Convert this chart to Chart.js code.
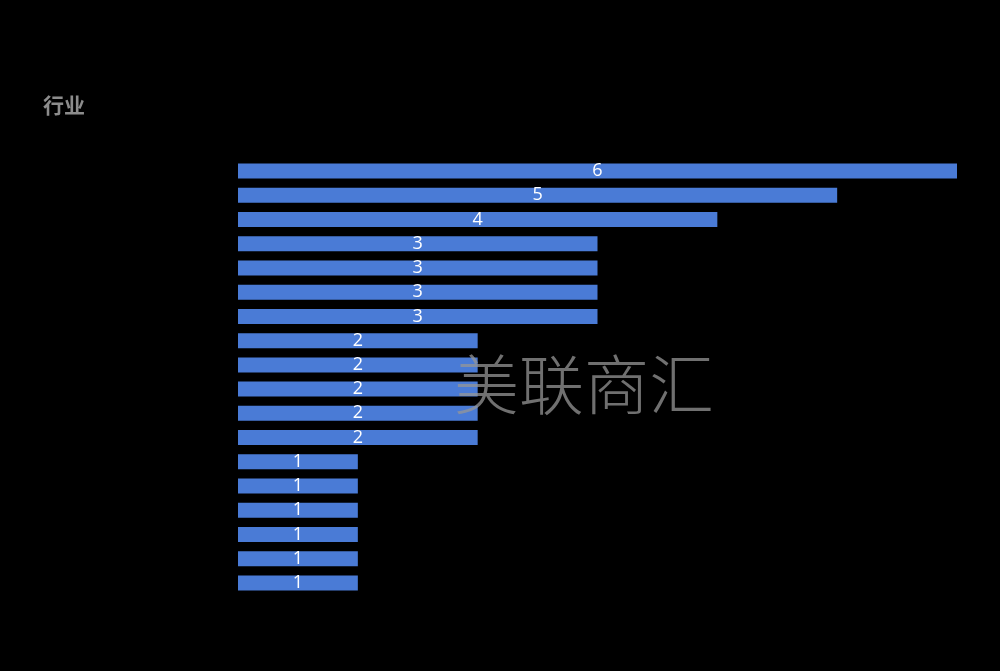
<!DOCTYPE html>
<html>
<head>
<meta charset="utf-8">
<script src="https://cdn.jsdelivr.net/npm/chart.js@4"></script>
<style>
  html, body { margin: 0; padding: 0; background: #000; }
  #wrap { width: 1000px; height: 671px; }
</style>
</head>
<body>
<div id="wrap"><canvas id="graphique"></canvas></div>
<script>
// Les noms de catégories ne sont pas lisibles sur l'image (texte noir sur fond noir)
const categories = [
  "行业1", "行业2", "行业3", "行业4", "行业5", "行业6",
  "行业7", "行业8", "行业9", "行业10", "行业11", "行业12",
  "行业13", "行业14", "行业15", "行业16", "行业17", "行业18"
];
const valeurs = [6, 5, 4, 3, 3, 3, 3, 2, 2, 2, 2, 2, 1, 1, 1, 1, 1, 1];
const titre = "行业";
const filigrane = "美联商汇";

// Titre en haut à gauche + filigrane
const decor = {
  id: "decor",
  afterDraw(chart) {
    const ctx = chart.ctx;
    ctx.save();
    ctx.fillStyle = "#8c8c8c";
    ctx.font = "bold 21px 'Noto Sans CJK SC'";
    ctx.textAlign = "left";
    ctx.textBaseline = "middle";
    ctx.fillText(titre, 43, 105);

    ctx.fillStyle = "rgba(150, 150, 150, 0.75)";
    ctx.font = "300 65px 'Noto Sans CJK SC'";
    ctx.textAlign = "center";
    ctx.fillText(filigrane, 584, 384);
    ctx.restore();
  }
};

// Étiquettes de valeur au centre de chaque barre
const etiquettes = {
  id: "etiquettes",
  afterDatasetsDraw(chart) {
    const ctx = chart.ctx;
    const meta = chart.getDatasetMeta(0);
    ctx.save();
    ctx.fillStyle = "#ffffff";
    ctx.font = "18px 'Open Sans'";
    ctx.textAlign = "center";
    ctx.textBaseline = "middle";
    meta.data.forEach((barre, i) => {
      const cx = (barre.x + barre.base) / 2;
      ctx.fillText(String(valeurs[i]), cx, barre.y);
    });
    ctx.restore();
  }
};

const data = {
  labels: categories,
  datasets: [
    {
      data: valeurs,
      backgroundColor: "#4a7bd6",
      borderWidth: 0,
      barPercentage: 0.7,
      categoryPercentage: 0.885,
    },
  ],
};

const config = {
  type: "bar",
  data: data,
  options: {
    indexAxis: "y",
    responsive: true,
    maintainAspectRatio: false,
    animation: false,
    layout: {
      padding: { left: 238, right: 43, top: 159, bottom: 76 },
    },
    plugins: {
      legend: { display: false },
      tooltip: { enabled: false },
    },
    scales: {
      x: {
        display: false,
        min: 0,
        max: 6,
      },
      y: {
        display: false,
      },
    },
  },
  plugins: [etiquettes, decor],
};

new Chart(document.querySelector("#graphique"), config);
</script>
</body>
</html>
